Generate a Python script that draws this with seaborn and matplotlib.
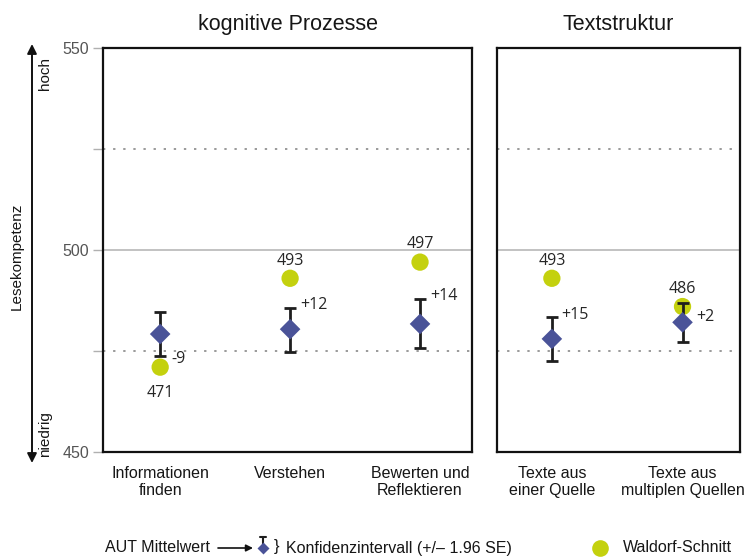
import matplotlib
matplotlib.use("Agg")
import matplotlib.pyplot as plt
import seaborn as sns
import pandas as pd
from matplotlib.lines import Line2D

# --- data -------------------------------------------------------------
panel_titles = ["kognitive Prozesse", "Textstruktur"]

cats_kog = ["Informationen\nfinden", "Verstehen", "Bewerten und\nReflektieren"]
aut_kog = [479.2, 480.4, 481.7]
ci_lo_kog = [473.8, 474.8, 475.7]
ci_hi_kog = [484.7, 485.7, 487.9]
waldorf_kog = [471, 493, 497]
diff_kog = ["-9", "+12", "+14"]

cats_txt = ["Texte aus\neiner Quelle", "Texte aus\nmultiplen Quellen"]
aut_txt = [478.0, 482.1]
ci_lo_txt = [472.6, 477.3]
ci_hi_txt = [483.3, 486.8]
waldorf_txt = [493, 486]
diff_txt = ["+15", "+2"]

y_ticks = [450, 475, 500, 525, 550]
y_ticklabels = ["450", "", "500", "", "550"]

# --- style ------------------------------------------------------------
sns.set_theme(style="white")
plt.rcParams["font.family"] = ["Liberation Sans", "DejaVu Sans"]
LABEL_FONT = ["Open Sans", "DejaVu Sans"]
DIAMOND = "#4a5398"
GREEN = "#c4d10e"
BAR = "#1e1e1e"
TXT = "#161616"

W, H = 744, 559
fig = plt.figure(figsize=(W / 100, H / 100), dpi=100)


def px_axes(x0, y0, x1, y1):
    return fig.add_axes([x0 / W, 1 - y1 / H, (x1 - x0) / W, (y1 - y0) / H])


ax_l = px_axes(103, 48, 472, 452)
ax_r = px_axes(497, 48, 740, 452)


def draw_panel(ax, cats, aut, lo, hi, wal, diffs, title, xlim, label_pos):
    df = pd.DataFrame({"kat": cats, "aut": aut, "lo": lo, "hi": hi, "wal": wal})
    # reference lines
    ax.axhline(500, color="#bdbdbd", lw=1.3, zorder=0)
    for yv in (475, 525):
        ax.axhline(yv, color="#9a9a9a", lw=1.4, ls=(0, (1.2, 4)), zorder=0)
    # confidence intervals
    ax.errorbar(df["kat"], df["aut"],
                yerr=[df["aut"] - df["lo"], df["hi"] - df["aut"]],
                fmt="none", ecolor=BAR, elinewidth=2.0, capsize=4.5,
                capthick=2.0, zorder=2)
    sns.scatterplot(data=df, x="kat", y="aut", marker="D", s=110,
                    color=DIAMOND, edgecolor="none", ax=ax, zorder=3)
    sns.scatterplot(data=df, x="kat", y="wal", marker="o", s=155,
                    color=GREEN, edgecolor="none", ax=ax, zorder=1)
    for i, (w, d) in enumerate(zip(wal, diffs)):
        wpos, dpos = label_pos[i]
        if wpos == "below":
            ax.annotate(str(w), (i, w), xytext=(0, -13), textcoords="offset points",
                        ha="center", va="top", fontsize=11.5, family=LABEL_FONT)
        else:
            ax.annotate(str(w), (i, w), xytext=(0, 7), textcoords="offset points",
                        ha="center", va="bottom", fontsize=11.5, family=LABEL_FONT)
        if dpos == "low":
            ax.annotate(d, (i, lo[i]), xytext=(8, -2), textcoords="offset points",
                        ha="left", va="center", fontsize=11.5, family=LABEL_FONT)
        elif dpos == "mid":
            ax.annotate(d, (i, aut[i]), xytext=(10, 4), textcoords="offset points",
                        ha="left", va="center", fontsize=11.5, family=LABEL_FONT)
        else:
            ax.annotate(d, (i, hi[i]), xytext=(7, 2), textcoords="offset points",
                        ha="left", va="center", fontsize=11.5, family=LABEL_FONT)
    ax.set_xlim(*xlim)
    ax.set_ylim(450, 550)
    ax.set_xlabel("")
    ax.set_ylabel("")
    ax.set_title(title, fontsize=15.5, pad=13, color=TXT)
    ax.tick_params(axis="x", length=0, pad=10, labelsize=11.5, colors=TXT)
    for s in ax.spines.values():
        s.set_visible(True)
        s.set_color("#111111")
        s.set_linewidth(1.6)


draw_panel(ax_l, cats_kog, aut_kog, ci_lo_kog, ci_hi_kog, waldorf_kog, diff_kog,
           panel_titles[0], (-0.44, 2.40),
           [("below", "low"), ("above", "high"), ("above", "high")])
draw_panel(ax_r, cats_txt, aut_txt, ci_lo_txt, ci_hi_txt, waldorf_txt, diff_txt,
           panel_titles[1], (-0.42, 1.44),
           [("above", "high"), ("above", "mid")])

ax_l.set_yticks(y_ticks)
ax_l.set_yticklabels(y_ticklabels)
ax_l.tick_params(axis="y", left=True, length=7, width=1, color="#b0b0b0",
                 labelsize=11.5, labelcolor="#555555", pad=3)
ax_r.set_yticks(y_ticks)
ax_r.tick_params(axis="y", left=False, labelleft=False)

# --- vertical scale arrow and labels ----------------------------------
ov = fig.add_axes([0, 0, 1, 1], facecolor="none")
ov.set_xlim(0, W)
ov.set_ylim(H, 0)
ov.axis("off")
ov.annotate("", xy=(32, 44), xytext=(32, 463),
            arrowprops=dict(arrowstyle="<|-|>", color="#111111", lw=1.4,
                            mutation_scale=14, shrinkA=0, shrinkB=0))
ov.text(17, 256, "Lesekompetenz", rotation=90, ha="center", va="center",
        fontsize=11, color=TXT)
ov.text(45, 74, "hoch", rotation=90, ha="center", va="center",
        fontsize=11, color=TXT)
ov.text(45, 434, "niedrig", rotation=90, ha="center", va="center",
        fontsize=11, color=TXT)

# --- legend row -------------------------------------------------------
ly = 548
ov.text(105, ly, "AUT Mittelwert", ha="left", va="center", fontsize=11.5,
        color=TXT)
ov.annotate("", xy=(253, ly), xytext=(218, ly),
            arrowprops=dict(arrowstyle="-|>", color="#111111", lw=1.2,
                            mutation_scale=10, shrinkA=0, shrinkB=0))
ov.plot([263, 263], [537, ly], color=BAR, lw=1.5)
ov.plot([260, 266], [537, 537], color=BAR, lw=1.5)
ov.add_line(Line2D([263], [ly], marker="D", markersize=6.5, color=DIAMOND,
                   markeredgecolor="none"))
ov.text(276, ly - 1, "}", ha="center", va="center", fontsize=12, color=TXT)
ov.text(286, ly, "Konfidenzintervall (+/\u2013 1.96 SE)", ha="left",
        va="center", fontsize=11.5, color=TXT)
ov.add_line(Line2D([600], [ly], marker="o", markersize=12, color=GREEN,
                   markeredgecolor="none"))
ov.text(623, ly, "Waldorf-Schnitt", ha="left", va="center", fontsize=11.5,
        color=TXT)

fig.savefig("out.png", dpi=100)
